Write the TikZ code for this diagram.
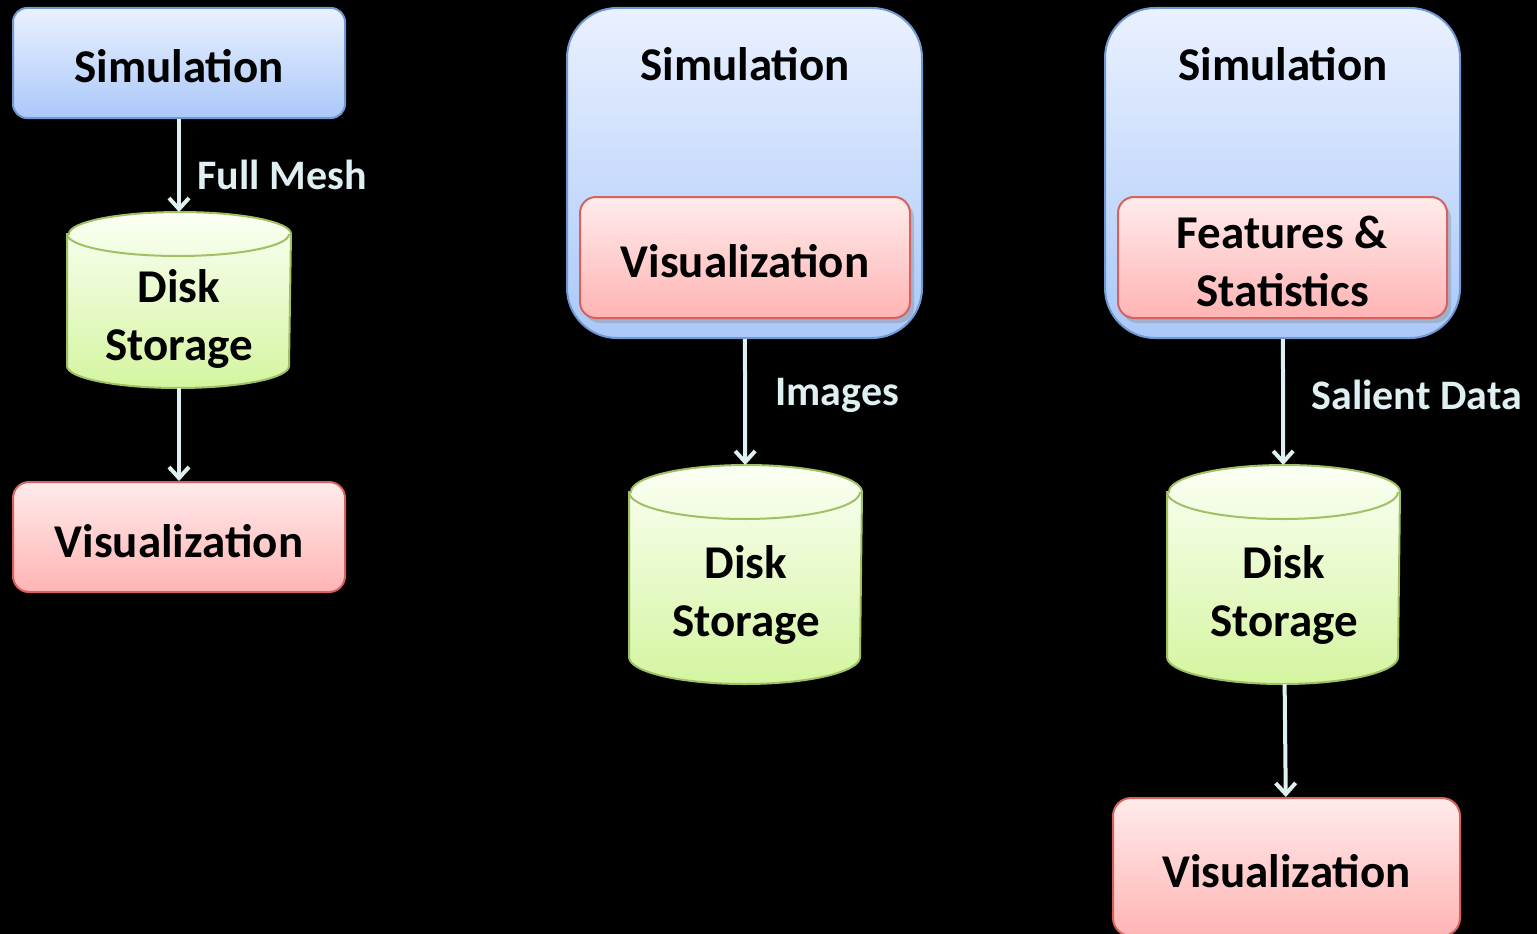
\documentclass[tikz,border=0pt]{standalone}
\usepackage{fontspec}
\setmainfont{Carlito}
\usetikzlibrary{arrows.meta}
\usetikzlibrary{shadows}
\definecolor{blue1}{RGB}{234, 241, 255}
\definecolor{blue2}{RGB}{170, 200, 249}
\definecolor{blueline}{RGB}{112, 152, 210}
\definecolor{red1}{RGB}{255, 235, 235}
\definecolor{red2}{RGB}{255, 180, 180}
\definecolor{redline}{RGB}{214, 98, 94}
\definecolor{green1}{RGB}{251, 255, 244}
\definecolor{green2}{RGB}{212, 245, 160}
\definecolor{greenline}{RGB}{160, 192, 100}
\definecolor{flowc}{RGB}{222, 240, 242}

% cylinder body drawn round an empty node: node, x radius, y radius
\newcommand{\diskshape}[3]{%
  \shade[top color=green1, bottom color=green2, draw=greenline, line width=2pt]
    ([yshift=-#3]#1.north west) -- ([yshift=#3]#1.south west)
    arc[start angle=180, end angle=360, x radius=#2, y radius=#3]
    -- ([yshift=-#3]#1.north east)
    arc[start angle=0, end angle=180, x radius=#2, y radius=#3] -- cycle;
  \draw[greenline, line width=2pt] ([yshift=-#3]#1.north west)
    arc[start angle=180, end angle=360, x radius=#2, y radius=#3];
}

\tikzset{
  bigfont/.style={font=\fontsize{47}{58}\selectfont\bfseries},
  simbox/.style={rectangle, rounded corners=14pt, draw=blueline, line width=2pt,
    top color=blue1, bottom color=blue2, bigfont, text height=40pt, text depth=0pt},
  visbox/.style={rectangle, rounded corners=16pt, draw=redline, line width=2pt,
    top color=red1, bottom color=red2, bigfont, align=center, text height=40pt, text depth=0pt},
  diskbox/.style={rectangle, inner sep=0pt, outer sep=1pt},
  disktext/.style={bigfont, align=center, text height=88pt, text depth=0pt},
  flow/.style={draw=flowc, line width=4pt, -{Straight Barb[length=11pt,width=20pt]}},
  lbl/.style={text=flowc, anchor=west, font=\fontsize{42}{50}\selectfont\bfseries}
}

\begin{document}
\begin{tikzpicture}[x=1pt, y=-1pt]
  \fill[black] (0,0) rectangle (1537,934);
  \useasboundingbox (0,0) rectangle (1537,934);

  % post-processing
  \node[simbox, minimum width=332pt, minimum height=110pt] (sim1) at (179,63) {Simulation};
  \node[diskbox, minimum width=222pt, minimum height=174pt] (disk1) at (179,300) {};
  \diskshape{disk1}{111pt}{22pt}
  \node[disktext] (dtxt1) at (179,316) {Disk\\Storage};
  \node[visbox, minimum width=332pt, minimum height=110pt] (vis1) at (179,537) {Visualization};

  % in situ visualization
  \node[simbox, rounded corners=50pt, minimum width=355pt, minimum height=330pt] (sim2) at (744.5,173) {};
  \node[bigfont] (simtxt2) at (745,64) {Simulation};
  \node[visbox, minimum width=330pt, minimum height=121pt,
    drop shadow={shadow xshift=4pt, shadow yshift=-5pt, opacity=0.35}] (vis2) at (745,257.5) {Visualization};
  \node[diskbox, minimum width=231pt, minimum height=217pt] (disk2) at (745.5,574.5) {};
  \diskshape{disk2}{115.5pt}{27pt}
  \node[disktext] (dtxt2) at (746,592) {Disk\\Storage};

  % in situ analysis
  \node[simbox, rounded corners=50pt, minimum width=355pt, minimum height=330pt] (sim3) at (1282.5,173) {};
  \node[bigfont] (simtxt3) at (1283,64) {Simulation};
  \node[visbox, minimum width=329pt, minimum height=121pt, text height=98pt,
    drop shadow={shadow xshift=4pt, shadow yshift=-5pt, opacity=0.35}] (feat3) at (1282.5,257.5) {Features \&\\Statistics};
  \node[diskbox, minimum width=231pt, minimum height=217pt] (disk3) at (1283.5,574.5) {};
  \diskshape{disk3}{115.5pt}{27pt}
  \node[disktext] (dtxt3) at (1284,592) {Disk\\Storage};
  \node[visbox, rounded corners=18pt, minimum width=347pt, minimum height=138pt] (vis3) at (1286.5,867) {Visualization};

  \foreach \from/\to in {sim1/disk1, disk1/vis1, sim2/disk2, sim3/disk3, disk3/vis3}
    \draw[flow] (\from) -- (\to);

  \node[lbl] (lmesh) at (194,175) {Full Mesh};
  \node[lbl] (limg) at (772,395) {Images};
  \node[lbl] (lsal) at (1308,395) {Salient Data};
\end{tikzpicture}
\end{document}
